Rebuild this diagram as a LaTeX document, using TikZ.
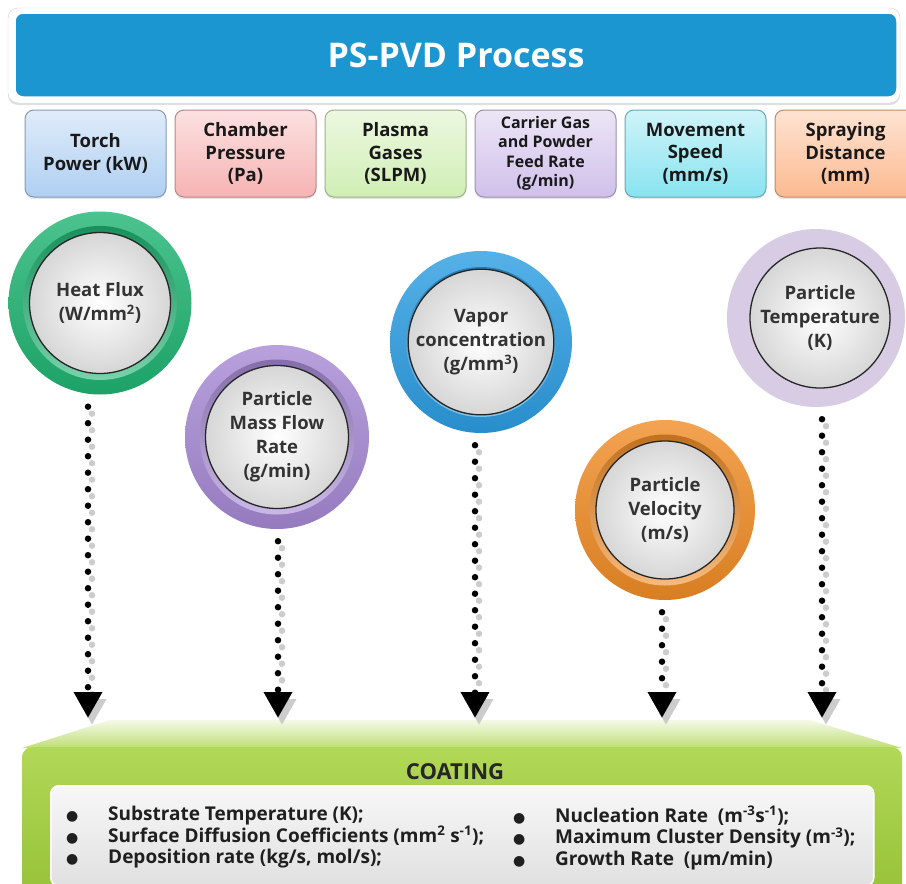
\documentclass[tikz,border=0pt]{standalone}
\usepackage{fontspec}
\setmainfont{Open Sans}
\newfontfamily\symbolfont{DejaVu Sans}
\usetikzlibrary{arrows.meta, positioning, shadows}

\definecolor{titleblue}{HTML}{1B96D0}
\definecolor{torchblue}{HTML}{AFCFF2}
\definecolor{chamberred}{HTML}{F7B3B3}
\definecolor{plasmagreen}{HTML}{D0EEB4}
\definecolor{carrierlilac}{HTML}{D0C0EA}
\definecolor{movecyan}{HTML}{88E3F0}
\definecolor{sprayorange}{HTML}{FCBA90}
\definecolor{fluxgreen}{HTML}{1FB472}
\definecolor{massviolet}{HTML}{A689D4}
\definecolor{vaporblue}{HTML}{2C9DE2}
\definecolor{velorange}{HTML}{F08C26}
\definecolor{templilac}{HTML}{D8CCE5}
\definecolor{coatgreen}{HTML}{A3D13A}
\definecolor{inktext}{HTML}{333333}

\newcommand{\dotitem}{\makebox[42pt][l]{\symbolfont\fontsize{14}{14}\selectfont ●}}

\begin{document}
\begin{tikzpicture}[
  x=1pt, y=-1pt,
  param/.style = {draw=#1!75!black, line width=1pt, rounded corners=9pt,
    top color=#1!40!white, bottom color=#1, minimum width=141pt, minimum height=87pt,
    inner sep=2pt, align=center, text=black!90,
    font=\fontsize{18.5}{22.5}\selectfont\bfseries,
    drop shadow={opacity=0.2, shadow xshift=0pt, shadow yshift=-2pt}},
  ring/.style = {circle, inner sep=0pt, minimum size=#1},
  core/.style = {circle, inner sep=0pt, minimum size=#1, draw=black!85, line width=1.3pt,
    inner color=white, outer color=black!16, align=center, text=inktext,
    font=\fontsize{18.5}{24}\selectfont\bfseries},
  link/.style = {line width=6.5pt, line cap=round, dash pattern=on 0pt off 16.5pt,
    shorten <=12pt, -{Triangle[width=27pt, length=26pt]}},
  linkshade/.style = {link, draw=black!20, transform canvas={xshift=4pt, yshift=-7pt}},
  listtext/.style = {inner sep=0pt, align=left, text=black!88,
    font=\fontsize{19}{21.5}\selectfont\bfseries}
]
  \useasboundingbox[fill=white] (0,0) rectangle (906,884);

  % header bar
  \node[draw=black!18, fill=white, rounded corners=10pt, minimum width=892pt, minimum height=95pt,
    drop shadow={opacity=0.25, shadow xshift=0pt, shadow yshift=-2pt}] (frame) at (454,55.5) {};
  \node[fill=titleblue, draw=white, line width=1.5pt, rounded corners=8pt, minimum width=882pt,
    minimum height=84pt, text=white, font=\fontsize{34}{40}\selectfont\bfseries] (title) at (456,55) {PS-PVD Process};

  % process parameters
  \node[param=torchblue] (torch) at (95.5,153.5) {Torch\\Power (kW)};
  \node[param=chamberred, right=8pt of torch] (chamber) {Chamber\\Pressure\\(Pa)};
  \node[param=plasmagreen, right=8pt of chamber] (plasma) {Plasma\\Gases\\(SLPM)};
  \node[param=carrierlilac, right=8pt of plasma, font=\fontsize{16}{19.5}\selectfont\bfseries] (carrier)
    {Carrier Gas\\and Powder\\Feed Rate\\(g/min)};
  \node[param=movecyan, right=8pt of carrier] (movement) {Movement\\Speed\\(mm/s)};
  \node[param=sprayorange, right=8pt of movement] (spraying) {Spraying\\Distance\\(mm)};

  % heat flux
  \node[ring=183pt, top color=fluxgreen!80!white, bottom color=fluxgreen!90!black] (fluxring) at (100,303) {};
  \node[ring=154pt, top color=fluxgreen!80!black, bottom color=fluxgreen!60!white] (fluxrim) at (fluxring) {};
  \node[core=141pt] (flux) at (fluxring) {Heat Flux\\(W/mm\textsuperscript{2})};

  % particle mass flow rate
  \node[ring=184pt, top color=massviolet!80!white, bottom color=massviolet!90!black] (massring) at (277,437) {};
  \node[ring=155pt, top color=massviolet!80!black, bottom color=massviolet!60!white] (massrim) at (massring) {};
  \node[core=143pt] (mass) at (massring) {Particle\\Mass Flow\\Rate\\(g/min)};

  % vapor concentration
  \node[ring=182pt, top color=vaporblue!80!white, bottom color=vaporblue!90!black] (vaporring) at (481,342) {};
  \node[ring=150pt, top color=vaporblue!80!black, bottom color=vaporblue!60!white] (vaporrim) at (vaporring) {};
  \node[core=137pt] (vapor) at (vaporring) {Vapor\\concentration\\(g/mm\textsuperscript{3})};

  % particle velocity
  \node[ring=180pt, top color=velorange!80!white, bottom color=velorange!90!black] (veloring) at (665,510) {};
  \node[ring=151pt, top color=velorange!80!black, bottom color=velorange!60!white] (velorim) at (veloring) {};
  \node[core=138pt] (velocity) at (veloring) {Particle\\Velocity\\(m/s)};

  % particle temperature
  \node[ring=178pt, fill=templilac] (tempring) at (816,318) {};
  \node[core=140pt] (temperature) at (820,318) {Particle\\Temperature\\(K)};

  % coating slab
  \shade[top color=coatgreen!12!white, bottom color=coatgreen!70!white] (110,720) -- (810,720) -- (902,748) -- (22,748) -- cycle;
  \node[rounded corners=10pt, minimum width=880pt, minimum height=160pt, anchor=north,
    top color=coatgreen!85!white, bottom color=coatgreen!92!black] (coating) at (462,747) {};
  \node[text=black!85, font=\fontsize{22}{26}\selectfont\bfseries] (coattitle) at (455,772) {COATING};
  \node[draw=white, line width=1.5pt, rounded corners=8pt, top color=black!3, bottom color=black!12,
    minimum width=823pt, minimum height=100pt, anchor=north west] (panel) at (50,785) {};
  \node[listtext, anchor=north west] (leftlist) at (66,806)
    {\dotitem Substrate Temperature (K);\\
     \dotitem Surface Diffusion Coefficients (mm\textsuperscript{2} s\textsuperscript{-1});\\
     \dotitem Deposition rate (kg/s, mol/s);};
  \node[listtext, anchor=north west] (rightlist) at (513,806)
    {\dotitem Nucleation Rate\ \ (m\textsuperscript{-3}s\textsuperscript{-1});\\
     \dotitem Maximum Cluster Density (m\textsuperscript{-3});\\
     \dotitem Growth Rate\ \ (µm/min)};

  % drops into the coating
  \coordinate (fluxfoot) at (88,718);
  \coordinate (massfoot) at (278,718);
  \coordinate (vaporfoot) at (475,718);
  \coordinate (velofoot) at (662,718);
  \coordinate (tempfoot) at (822,718);
  \draw[linkshade] (fluxfoot |- fluxring.south) -- (fluxfoot);
  \draw[linkshade] (massfoot |- massring.south) -- (massfoot);
  \draw[linkshade] (vaporfoot |- vaporring.south) -- (vaporfoot);
  \draw[linkshade] (velofoot |- veloring.south) -- (velofoot);
  \draw[linkshade] (tempfoot |- tempring.south) -- (tempfoot);
  \draw[link] (fluxfoot |- fluxring.south) -- (fluxfoot);
  \draw[link] (massfoot |- massring.south) -- (massfoot);
  \draw[link] (vaporfoot |- vaporring.south) -- (vaporfoot);
  \draw[link] (velofoot |- veloring.south) -- (velofoot);
  \draw[link] (tempfoot |- tempring.south) -- (tempfoot);
\end{tikzpicture}
\end{document}
